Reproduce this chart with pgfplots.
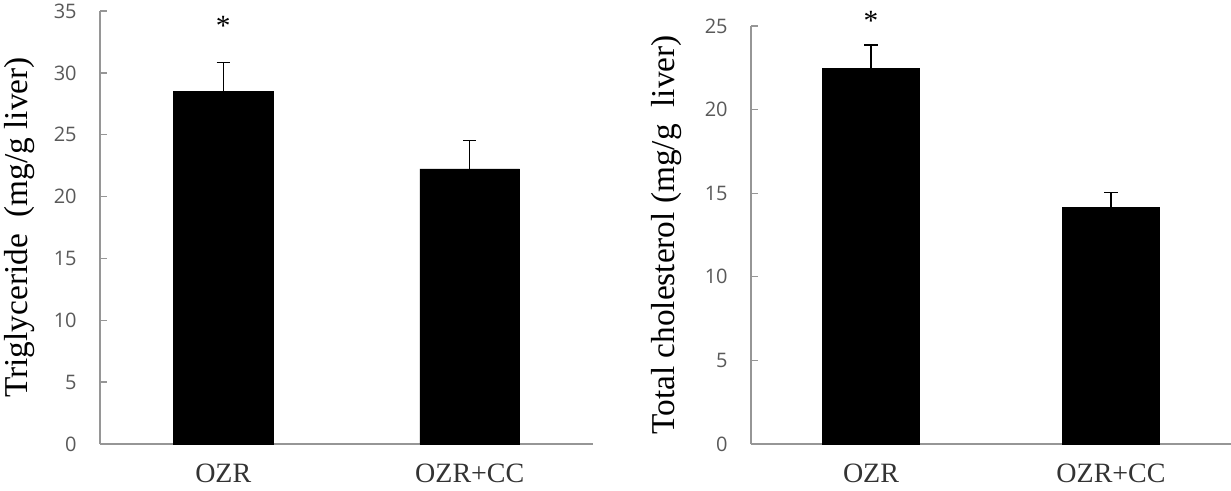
\documentclass[border=0pt]{standalone}
\usepackage{pgfplots}
\pgfplotsset{compat=1.18}
\usepackage{fontspec}
\setmainfont{Liberation Serif}
\newfontfamily\tickfont{Open Sans}
\definecolor{axisgray}{HTML}{969696}
\definecolor{tickgray}{HTML}{595959}
\definecolor{catgray}{HTML}{333333}
\pgfplotsset{
  myaxis/.style={
    scale only axis,
    xmin=-0.5, xmax=1.5, ymin=0,
    xtick={0,1}, xticklabels={OZR,OZR+CC},
    axis x line*=bottom, axis y line*=left,
    axis line style={draw=axisgray, line width=1pt},
    tick align=inside,
    major tick length=5.25pt,
    y tick style={draw=axisgray, line width=1pt},
    x tick style={draw=none},
    clip=false,
    /pgf/number format/assume math mode=true,
    yticklabel style={font=\tickfont\fontsize{15}{15}\selectfont, text=tickgray, xshift=-14pt},
    xticklabel style={font=\fontsize{21}{21}\selectfont, text=catgray, yshift=-11.5pt},
  },
  mybar/.style={
    ybar, fill=black, draw=black, bar width=0.405,
    error bars/.cd, y dir=plus, y explicit,
    error bar style={line width=1.1pt, black},
    error mark options={rotate=90, mark size=4.9pt, line width=1.1pt, black},
  }
}
\begin{document}
\begin{tikzpicture}
\useasboundingbox (0,0) rectangle (923.25pt,367.5pt);
\begin{axis}[myaxis,
  at={(75pt,34.5pt)}, anchor=south west,
  width=369.75pt, height=324.75pt,
  ymax=35, ytick={0,5,...,35},
  every axis y label/.style={at={(axis description cs:-0.1623,0.5)}, rotate=90, anchor=center, font=\fontsize{25}{25}\selectfont},
  ylabel={Triglyceride~~(mg/g liver)},
]
\addplot[mybar] coordinates {(0,28.53) +- (0,2.32) (1,22.23) +- (0,2.29)};
\node[font=\fontsize{22}{22}\selectfont, anchor=base] at (axis cs:0,33.0) {*};
\end{axis}
\begin{axis}[myaxis,
  at={(563.25pt,34.5pt)}, anchor=south west,
  width=360pt, height=313.5pt,
  ymax=25, ytick={0,5,...,25},
  every axis y label/.style={at={(axis description cs:-0.177,0.5)}, rotate=90, anchor=center, font=\fontsize{25}{25}\selectfont},
  ylabel={Total cholesterol (mg/g~~liver)},
]
\addplot[mybar] coordinates {(0,22.47) +- (0,1.39) (1,14.16) +- (0,0.87)};
\node[font=\fontsize{22}{22}\selectfont, anchor=base] at (axis cs:0,24.72) {*};
\end{axis}
\end{tikzpicture}
\end{document}
